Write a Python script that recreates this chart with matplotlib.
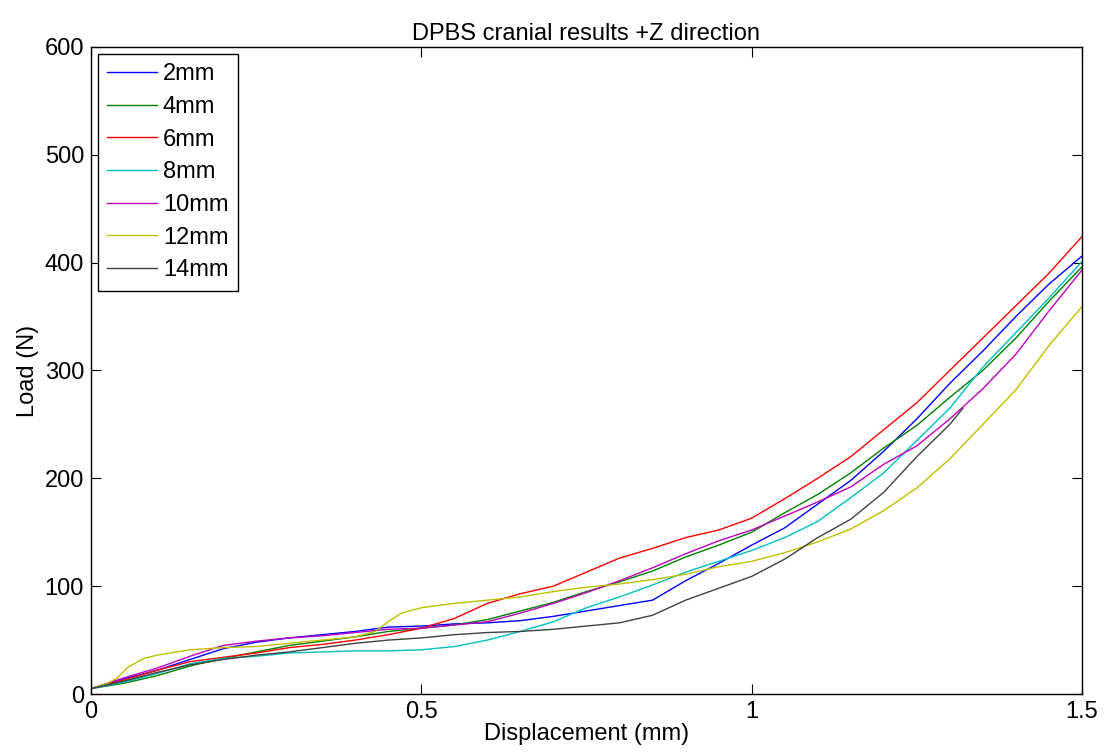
import matplotlib
matplotlib.use('Agg')
import matplotlib.pyplot as plt

plt.rcParams['font.family'] = ['Liberation Sans', 'DejaVu Sans']

# displacement grid (mm) shared by most curves
disp = [0, 0.05, 0.1, 0.15, 0.2, 0.25, 0.3, 0.35, 0.4, 0.45, 0.5, 0.55, 0.6, 0.65,
        0.7, 0.75, 0.8, 0.85, 0.9, 0.95, 1.0, 1.05, 1.1, 1.15, 1.2, 1.25, 1.3, 1.35,
        1.4, 1.45, 1.5]

load_2 = [5, 14, 22, 32, 42, 48, 52, 55, 58, 62, 63, 65, 66, 68, 72, 77, 82, 87,
          105, 121, 138, 154, 176, 198, 225, 255, 288, 318, 350, 380, 406]
load_4 = [5, 10, 17, 26, 33, 39, 45, 49, 53, 58, 61, 64, 69, 77, 85, 95, 104, 114,
          127, 138, 150, 168, 185, 205, 228, 249, 275, 300, 330, 364, 396]
load_6 = [5, 13, 22, 30, 34, 38, 43, 46, 50, 55, 61, 70, 84, 93, 100, 113, 126, 135,
          145, 152, 163, 181, 200, 220, 245, 270, 300, 330, 360, 390, 424]
load_8 = [5, 11, 19, 28, 33, 35, 38, 39, 40, 40, 41, 44, 50, 58, 67, 80, 90, 101,
          113, 123, 133, 145, 160, 182, 205, 235, 265, 303, 335, 367, 401]
load_10 = [5, 15, 24, 35, 45, 49, 52, 54, 57, 60, 61, 64, 67, 75, 84, 94, 105, 117,
           130, 142, 152, 165, 178, 192, 213, 230, 255, 283, 315, 355, 393]

disp_12 = [0, 0.025, 0.04, 0.056, 0.08, 0.1, 0.15, 0.2, 0.25, 0.3, 0.35, 0.4, 0.43,
           0.45, 0.47, 0.5, 0.55, 0.6, 0.65, 0.7, 0.75, 0.8, 0.85, 0.9, 0.95, 1.0,
           1.05, 1.1, 1.15, 1.2, 1.25, 1.3, 1.35, 1.4, 1.45, 1.5]
load_12 = [5, 10, 15, 25, 33, 36, 41, 43, 44, 47, 50, 53, 58, 67, 75, 80, 84, 87, 90,
           95, 99, 102, 106, 111, 118, 123, 131, 141, 153, 170, 191, 218, 250, 282,
           323, 359]

disp_14 = [0, 0.05, 0.1, 0.15, 0.2, 0.25, 0.3, 0.35, 0.4, 0.45, 0.5, 0.55, 0.6, 0.65,
           0.7, 0.75, 0.8, 0.85, 0.9, 0.95, 1.0, 1.05, 1.1, 1.15, 1.2, 1.25, 1.3, 1.32]
load_14 = [5, 12, 20, 27, 32, 36, 39, 43, 47, 50, 52, 55, 57, 58, 60, 63, 66, 73, 87,
           98, 109, 125, 145, 162, 187, 220, 250, 265]

labels = ['2mm', '4mm', '6mm', '8mm', '10mm', '12mm', '14mm']
colors = ['#0000ff', '#008000', '#ff0000', '#00bfbf', '#bf00bf', '#bfbf00', '#404040']

series = [(disp, load_2), (disp, load_4), (disp, load_6), (disp, load_8),
          (disp, load_10), (disp_12, load_12), (disp_14, load_14)]

fs = 17

fig = plt.figure(figsize=(11.04, 7.56), dpi=100)
ax = fig.add_axes([0.0824, 0.082, 0.8976, 0.856])

for (x, y), lab, col in zip(series, labels, colors):
    ax.plot(x, y, color=col, lw=1.0, label=lab)

ax.set_xlim(0, 1.5)
ax.set_ylim(0, 600)
ax.set_xticks([0, 0.5, 1, 1.5])
ax.set_xticklabels(['0', '0.5', '1', '1.5'])
ax.set_yticks(range(0, 601, 100))
ax.tick_params(direction='in', top=True, right=True, length=7, labelsize=fs, pad=5)
for s in ax.spines.values():
    s.set_linewidth(1.0)

ax.set_xlabel('Displacement (mm)', fontsize=fs, labelpad=0)
ax.set_ylabel('Load (N)', fontsize=fs, labelpad=4)
ax.set_title('DPBS cranial results +Z direction', fontsize=fs, pad=5)

leg = ax.legend(loc='upper left', fontsize=fs, frameon=True, fancybox=False,
                edgecolor='black', framealpha=1, handlelength=2.1,
                labelspacing=0.45, borderaxespad=0.3, borderpad=0.4,
                handletextpad=0.25)
leg.get_frame().set_linewidth(1.0)

fig.savefig('out.png', dpi=100)
